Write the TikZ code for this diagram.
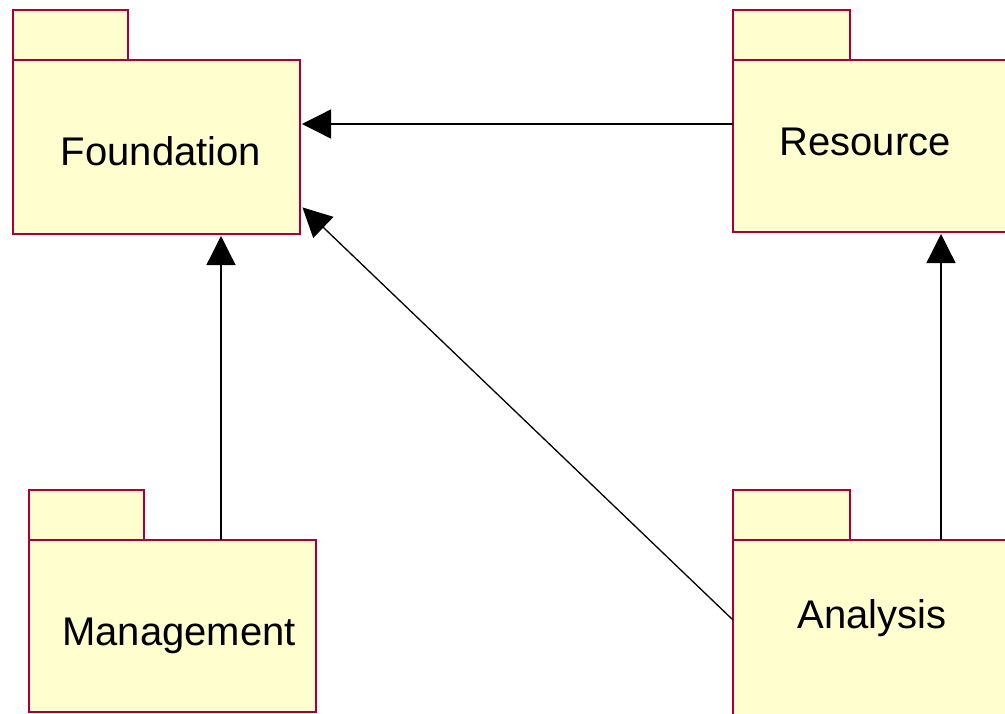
\documentclass[tikz,border=0pt]{standalone}
\usepackage{fontspec}
\setmainfont{Liberation Sans}
\usetikzlibrary{arrows.meta}
\definecolor{pkgfill}{HTML}{FEFECE}
\definecolor{pkgline}{HTML}{A80036}
\tikzset{
  pkgbody/.style={draw=pkgline, fill=pkgfill, line width=1.5pt, rectangle, inner sep=0pt, outer sep=0pt, minimum width=287pt},
  pkgtab/.style={draw=pkgline, fill=pkgfill, line width=1.5pt},
  pkglabel/.style={anchor=base, inner sep=0pt, font=\fontsize{40}{48}\selectfont},
  dep/.style={draw=black, line width=1.3pt, -{Triangle[length=29pt,width=29pt]}, shorten >=2pt}
}
\begin{document}
\begin{tikzpicture}[x=1pt,y=-1pt]
\useasboundingbox (0,0) rectangle (1005,713);
% tabs
\draw[pkgtab] (13,10) rectangle (128,60);
\draw[pkgtab] (733,10) rectangle (850,60);
\draw[pkgtab] (29,490) rectangle (144,540);
\draw[pkgtab] (733,490) rectangle (850,540);
% bodies
\node[pkgbody, minimum height=174pt] (found) at (156.5,147) {};
\node[pkgbody, minimum height=172pt] (res) at (876.5,146) {};
\node[pkgbody, minimum height=172pt] (mgmt) at (172.5,626) {};
\node[pkgbody, minimum height=180pt] (ana) at (876.5,630) {};
% labels
\node[pkglabel] (tfound) at (161,165) {Foundation};
\node[pkglabel] (tres) at (865,155) {Resource};
\node[pkglabel] (tmgmt) at (179,645) {Management};
\node[pkglabel] (tana) at (872,628) {Analysis};
% connectors
\coordinate (resL) at (res.west |- 0,124);
\coordinate (foundR) at (found.east |- 0,124);
\draw[dep] (resL) -- (foundR);
\coordinate (mgmtT) at (mgmt.north -| 221,0);
\coordinate (foundB) at (found.south -| 221,0);
\draw[dep] (mgmtT) -- (foundB);
\coordinate (anaT) at (ana.north -| 941,0);
\coordinate (resB) at (res.south -| 941,0);
\draw[dep] (anaT) -- (resB);
\coordinate (anaL) at (ana.west |- 0,620);
\coordinate (foundC) at (301,206);
\draw[dep] (anaL) -- (foundC);
\end{tikzpicture}
\end{document}
